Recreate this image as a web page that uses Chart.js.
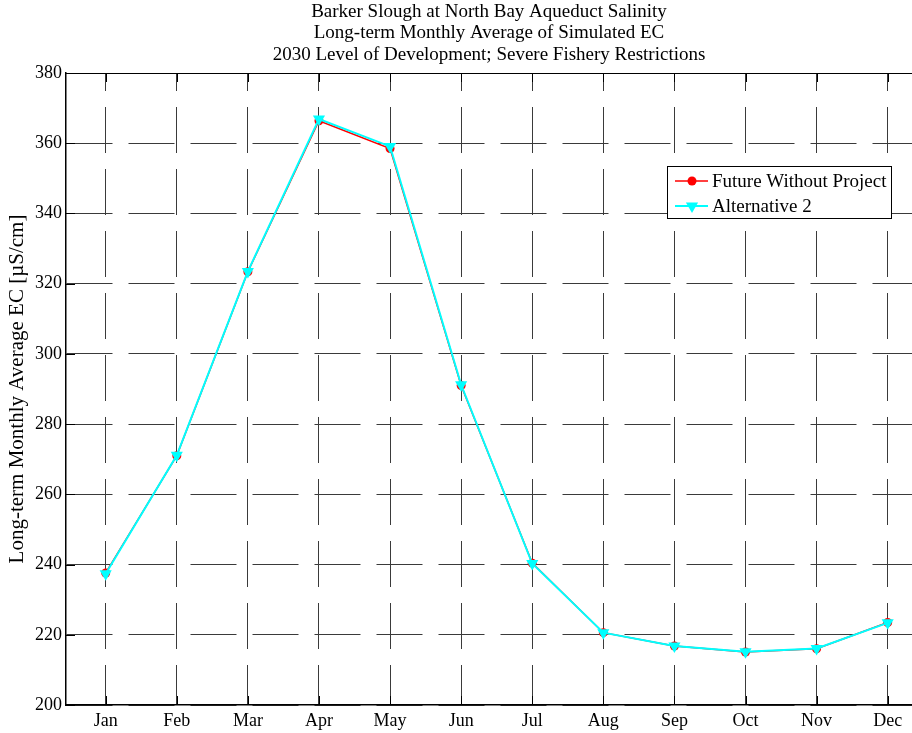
<!DOCTYPE html>
<html>
<head>
<meta charset="utf-8">
<script src="https://cdn.jsdelivr.net/npm/chart.js@4/dist/chart.umd.min.js"></script>
<style>
  html, body { margin: 0; padding: 0; background: #fff; }
</style>
</head>
<body>
<canvas id="ecChart" width="912" height="733"></canvas>
<script>
const months = ["Jan", "Feb", "Mar", "Apr", "May", "Jun", "Jul", "Aug", "Sep", "Oct", "Nov", "Dec"]
const futureWithoutProject = [237.6, 271.0, 323.4, 366.4, 358.5, 291.0, 240.4, 220.6, 216.8, 215.1, 216.0, 223.5]
const alternative2 = [237.4, 271.1, 323.5, 366.9, 359.1, 291.2, 240.3, 220.6, 216.8, 215.2, 216.1, 223.4]
const yTicks = [200, 220, 240, 260, 280, 300, 320, 340, 360, 380]

const SERIF = "'Liberation Serif', 'Times New Roman', serif"
Chart.defaults.font.family = SERIF
Chart.defaults.color = "#000"

function toPoints(values) {
  return values.map((v, i) => ({ x: i + 1, y: v }))
}

// frame top line + inward tick marks like matlab
const frameTicks = {
  id: "frameTicks",
  beforeDatasetsDraw(chart) {
    const { ctx, chartArea } = chart
    const xs = chart.scales.x
    const ys = chart.scales.y
    ctx.save()
    ctx.strokeStyle = "#000"
    ctx.lineWidth = 1
    ctx.beginPath()
    ctx.moveTo(chartArea.left, chartArea.top + 0.5)
    ctx.lineTo(chartArea.right, chartArea.top + 0.5)
    xs.ticks.forEach(t => {
      const px = Math.round(xs.getPixelForValue(t.value)) + 0.5
      ctx.moveTo(px, chartArea.bottom)
      ctx.lineTo(px, chartArea.bottom - 9)
      ctx.moveTo(px, chartArea.top)
      ctx.lineTo(px, chartArea.top + 9)
    })
    ys.ticks.forEach(t => {
      const py = Math.round(ys.getPixelForValue(t.value)) + 0.5
      ctx.moveTo(chartArea.left, py)
      ctx.lineTo(chartArea.left + 9, py)
    })
    ctx.stroke()
    ctx.restore()
  },
}

function drawMarker(ctx, ds, x, y) {
  ctx.fillStyle = ds.pointBackgroundColor
  ctx.beginPath()
  if (ds.pointStyle === "triangle") {
    const r = ds.pointRadius
    ctx.moveTo(x - r * 0.87, y - r * 0.5)
    ctx.lineTo(x + r * 0.87, y - r * 0.5)
    ctx.lineTo(x, y + r)
    ctx.closePath()
  } else {
    ctx.arc(x, y, ds.pointRadius, 0, Math.PI * 2)
  }
  ctx.fill()
}

// legend box inside the plot, upper right
const boxLegend = {
  id: "boxLegend",
  afterDatasetsDraw(chart) {
    const { ctx, chartArea } = chart
    const left = chartArea.right - 245
    const top = chartArea.top + 93
    const w = 224
    const h = 52
    ctx.save()
    ctx.fillStyle = "#fff"
    ctx.fillRect(left, top, w, h)
    ctx.strokeStyle = "#000"
    ctx.lineWidth = 1
    ctx.strokeRect(left + 0.5, top + 0.5, w, h)
    ctx.font = "19px " + SERIF
    ctx.textBaseline = "middle"
    chart.data.datasets.forEach((ds, i) => {
      const y = top + 15 + i * 25
      ctx.strokeStyle = ds.borderColor
      ctx.lineWidth = ds.borderWidth
      ctx.beginPath()
      ctx.moveTo(left + 8, y)
      ctx.lineTo(left + 41, y)
      ctx.stroke()
      drawMarker(ctx, ds, left + 25, y)
      ctx.fillStyle = "#000"
      ctx.fillText(ds.label, left + 45, y + 1)
    })
    ctx.restore()
  },
}

const data = {
  datasets: [
    {
      label: "Future Without Project",
      data: toPoints(futureWithoutProject),
      borderColor: "#ff0000",
      backgroundColor: "#ff0000",
      pointBackgroundColor: "#ff0000",
      pointBorderWidth: 0,
      pointStyle: "circle",
      pointRadius: 4.5,
      borderWidth: 1.5,
      order: 1,
    },
    {
      label: "Alternative 2",
      data: toPoints(alternative2),
      borderColor: "#00ffff",
      backgroundColor: "#00ffff",
      pointBackgroundColor: "#00ffff",
      pointBorderWidth: 0,
      pointStyle: "triangle",
      pointRotation: 180,
      pointRadius: 7,
      borderWidth: 2,
      order: 0,
    },
  ],
}

const config = {
  type: "line",
  data: data,
  plugins: [frameTicks, boxLegend],
  options: {
    responsive: false,
    animation: false,
    devicePixelRatio: 1,
    layout: { padding: 0, autoPadding: false },
    plugins: {
      legend: { display: false },
      tooltip: { enabled: false },
      title: {
        display: true,
        fullSize: false,
        text: [
          "Barker Slough at North Bay Aqueduct Salinity",
          "Long-term Monthly Average of Simulated EC",
          "2030 Level of Development; Severe Fishery Restrictions",
        ],
        color: "#000",
        font: { size: 19, weight: "normal", lineHeight: "21.5px" },
        padding: { top: 1, bottom: 7.5 },
      },
    },
    scales: {
      x: {
        type: "linear",
        min: 0.4416,
        max: 12.342,
        afterBuildTicks(scale) {
          scale.ticks = months.map((m, i) => ({ value: i + 1 }))
        },
        afterFit(scale) {
          scale.height = 28
          scale.paddingLeft = 0
          scale.paddingRight = 0
        },
        ticks: {
          font: { size: 18 },
          padding: 5,
          maxRotation: 0,
          autoSkip: false,
          callback: value => months[value - 1],
        },
        grid: {
          color: "#3a3a3a",
          lineWidth: 1,
          drawTicks: false,
        },
        border: { display: true, color: "#000", width: 1.5, dash: [46, 16], dashOffset: 28 },
      },
      y: {
        min: 200,
        max: 380,
        afterBuildTicks(scale) {
          scale.ticks = yTicks.map(v => ({ value: v }))
        },
        afterFit(scale) {
          scale.width = 66
          scale.paddingTop = 0
          scale.paddingBottom = 0
        },
        ticks: {
          font: { size: 18 },
          padding: 4,
        },
        grid: {
          color: "#3a3a3a",
          lineWidth: 1,
          drawTicks: false,
        },
        border: { display: true, color: "#000", width: 1.5, dash: [46, 16], dashOffset: 0 },
        title: {
          display: true,
          text: "Long-term Monthly Average EC [\u00b5S/cm]",
          font: { size: 21 },
          padding: { top: 5, bottom: 0 },
        },
      },
    },
  },
}

new Chart(document.getElementById("ecChart"), config)
</script>
</body>
</html>
